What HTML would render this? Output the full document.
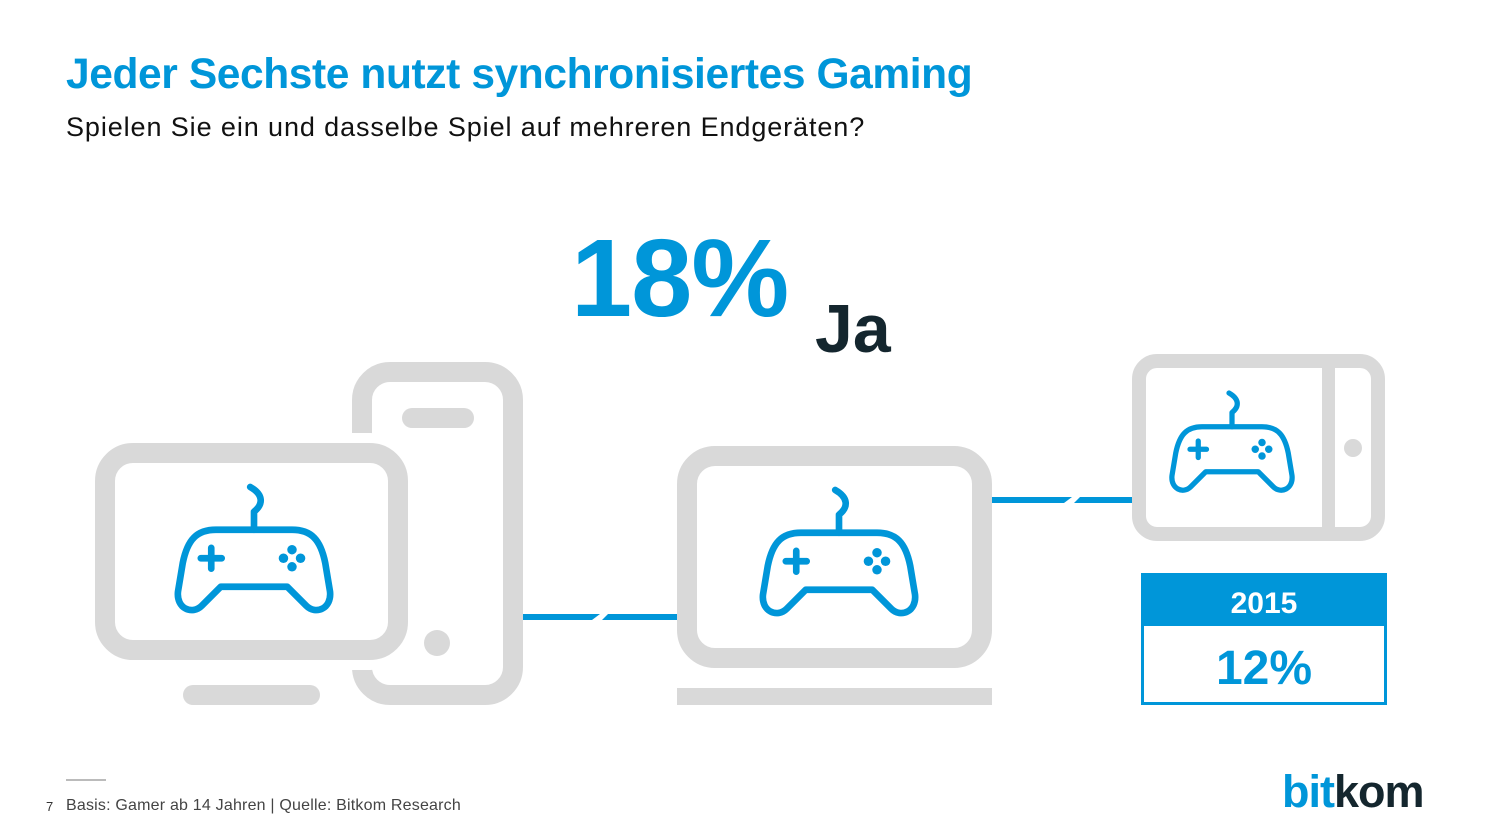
<!DOCTYPE html>
<html><head><meta charset="utf-8"><style>
body{margin:0;width:1500px;height:839px;background:#fff;overflow:hidden;position:relative;font-family:"Liberation Sans",sans-serif}
.t{position:absolute;white-space:nowrap}
</style></head><body>
<div class="t" style="left:66px;top:51px;font-size:42.5px;font-weight:bold;color:#0096d9;letter-spacing:-0.4px">Jeder Sechste nutzt synchronisiertes Gaming</div>
<div class="t" style="left:66px;top:112px;font-size:27px;color:#111;letter-spacing:0.9px">Spielen Sie ein und dasselbe Spiel auf mehreren Endgeräten?</div>
<div class="t" style="left:571px;top:215px;font-size:110px;font-weight:bold;color:#0096d9;letter-spacing:-1px">18%</div>
<div class="t" style="left:815px;top:290px;font-size:68px;font-weight:bold;color:#14262e">Ja</div>

<svg width="1500" height="839" style="position:absolute;left:0;top:0">
<defs>
<g id="pad" fill="none" stroke="#0096d9" stroke-width="7" stroke-linecap="round" stroke-linejoin="round">
<path d="M76 0 c14 8 14 18 4 26 v19"/>
<path d="M40 45 H120 C140 45 150 55 155 80 L160 110 C162 128 145 135 135 125 L115 105 H45 L25 125 C15 135 -2 128 0 110 L5 80 C10 55 20 45 40 45 Z"/>
<path d="M35 64 v22 M24 75 h22"/>
<g fill="#0096d9" stroke="none"><circle cx="120" cy="66" r="5"/><circle cx="120" cy="84" r="5"/><circle cx="111" cy="75" r="5"/><circle cx="129" cy="75" r="5"/></g>
</g>
</defs>
<g>
<rect x="362" y="372" width="151" height="323" rx="28" fill="none" stroke="#d9d9d9" stroke-width="20"/>
<rect x="402" y="408" width="72" height="20" rx="10" fill="#d9d9d9"/>
<circle cx="437" cy="643" r="13" fill="#d9d9d9"/>
</g>
<g>
<rect x="105" y="453" width="293" height="197" rx="28" fill="#fff" stroke="#fff" stroke-width="40"/>
<rect x="105" y="453" width="293" height="197" rx="28" fill="#fff" stroke="#d9d9d9" stroke-width="20"/>
<rect x="183" y="685" width="137" height="20" rx="10" fill="#d9d9d9"/>
<use href="#pad" transform="translate(178,487) scale(0.95)"/>
</g>
<g fill="#0096d9">
<polygon points="523,614 600,614 592,620 523,620"/><polygon points="608,614 677,614 677,620 602,620"/>
</g>
<g>
<rect x="687" y="456" width="295" height="202" rx="28" fill="#fff" stroke="#d9d9d9" stroke-width="20"/>
<rect x="677" y="688" width="315" height="17" fill="#d9d9d9"/>
<use href="#pad" transform="translate(763,490) scale(0.95)"/>
</g>
<g fill="#0096d9">
<polygon points="992,497 1072,497 1064,503 992,503"/><polygon points="1080,497 1132,497 1132,503 1074,503"/>
</g>
<g>
<rect x="1139" y="361" width="239" height="173" rx="18" fill="none" stroke="#d9d9d9" stroke-width="14"/>
<rect x="1322" y="361" width="13" height="173" fill="#d9d9d9"/>
<circle cx="1353" cy="448" r="9" fill="#d9d9d9"/>
<use href="#pad" transform="translate(1172,393) scale(0.75)"/>
</g>
<g>
<rect x="1142.5" y="574.5" width="243" height="129" fill="#fff" stroke="#0096d9" stroke-width="3"/>
<rect x="1141" y="573" width="246" height="53" fill="#0096d9"/>
<text x="1264" y="613" text-anchor="middle" font-family="Liberation Sans" font-weight="bold" font-size="30" fill="#fff">2015</text>
<text x="1264" y="684" text-anchor="middle" font-family="Liberation Sans" font-weight="bold" font-size="48" fill="#0096d9">12%</text>
</g>
<rect x="66" y="779" width="40" height="2" fill="#bbb"/>
</svg>
<div class="t" style="left:46px;top:799px;font-size:13px;color:#333">7</div>
<div class="t" style="left:66px;top:797px;font-size:16px;color:#444;letter-spacing:0.2px">Basis: Gamer ab 14 Jahren | Quelle: Bitkom Research</div>
<div class="t" style="left:1282px;top:766px;font-size:45px;font-weight:bold;letter-spacing:-1px"><span style="color:#0096d9">bit</span><span style="color:#14262e">kom</span></div>
</body></html>
